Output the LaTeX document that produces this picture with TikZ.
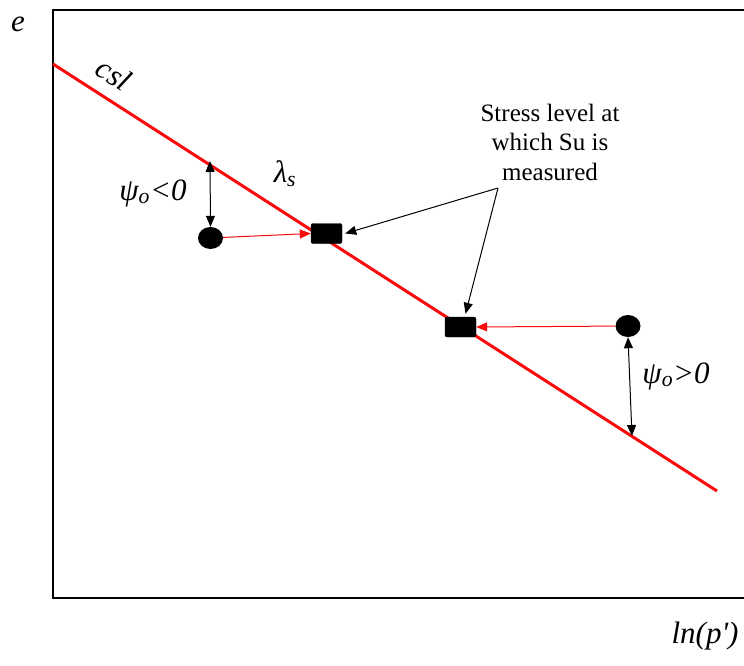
\documentclass[tikz,border=0pt]{standalone}
\usepackage{fontspec}
\setmainfont{Liberation Serif}
\usetikzlibrary{arrows.meta, positioning, calc}
\definecolor{cslred}{RGB}{250, 10, 10}
\tikzset{
    axislabel/.style={font=\fontsize{31}{36}\selectfont\itshape, inner sep=0pt},
    statepoint/.style={draw=none, fill=black, ellipse, minimum width=25pt, minimum height=22pt, inner sep=0pt},
    ssbox/.style={fill=black, draw=black, rounded corners=2pt, minimum width=31pt, minimum height=20pt, inner sep=0pt},
    pathArrow/.style={-{Triangle[length=11pt, width=9pt]}, draw=cslred, line width=1pt},
    noteArrow/.style={-{Triangle[length=11pt, width=9pt]}, line width=1pt},
    psiArrow/.style={{Triangle[length=11pt, width=9pt]}-{Triangle[length=11pt, width=9pt]}, line width=1pt},
    notetext/.style={font=\fontsize{25}{29.5}\selectfont, align=center, inner sep=0pt},
}
\usetikzlibrary{shapes.geometric}
\begin{document}
\begin{tikzpicture}[x=1pt, y=-1pt]
    \useasboundingbox (0,0) rectangle (744,666);
    % Axes frame (open on the right)
    \draw[line width=1.6pt] (744,10) -- (53,10) -- (53,598) -- (744,598);

    % Critical state line
    \coordinate (cslA) at (53,64);
    \coordinate (cslB) at (717,491);
    \draw[cslred, line width=3pt] (cslA) -- (cslB);

    % Initial states and states at measurement
    \node[statepoint] (looseIni) at (210.5,238) {};
    \node[statepoint] (denseIni) at (628,326) {};
    \node[ssbox] (looseSS) at (326.5,233.5) {};
    \node[ssbox] (denseSS) at (460.5,327) {};
    \draw[pathArrow] (looseIni) -- (looseSS.west);
    \draw[pathArrow] (denseIni) -- (denseSS.east);

    % Distance to the csl
    \coordinate (looseOnCsl) at (210,161);
    \coordinate (denseOnCsl) at (632,436);
    \draw[psiArrow] (looseOnCsl) -- (looseIni.north);
    \draw[psiArrow] (denseIni.south) -- (denseOnCsl);

    % Note
    \node[notetext] (note) at (550,142) {Stress level at\\which Su is\\measured};
    \coordinate (noteFoot) at (498,188);
    \draw[noteArrow] (noteFoot) -- ($(looseSS.east)+(3,0)$);
    \draw[noteArrow] (noteFoot) -- ($(denseSS.north)+(5,-3)$);

    % Labels
    \node[axislabel] (eLabel) at (18,24) {e};
    \node[axislabel] (lnLabel) at (705,636) {ln(p\textquotesingle)};
    \node[axislabel, rotate=-33] (cslLabel) at (114,74) {csl};
    \node[axislabel] (lambdaLabel) at (285,174) {λ\textsubscript{s}};
    \node[axislabel] (psiLoose) at (153,193) {ψ\textsubscript{o}<0};
    \node[axislabel] (psiDense) at (676,376) {ψ\textsubscript{o}>0};
\end{tikzpicture}
\end{document}
